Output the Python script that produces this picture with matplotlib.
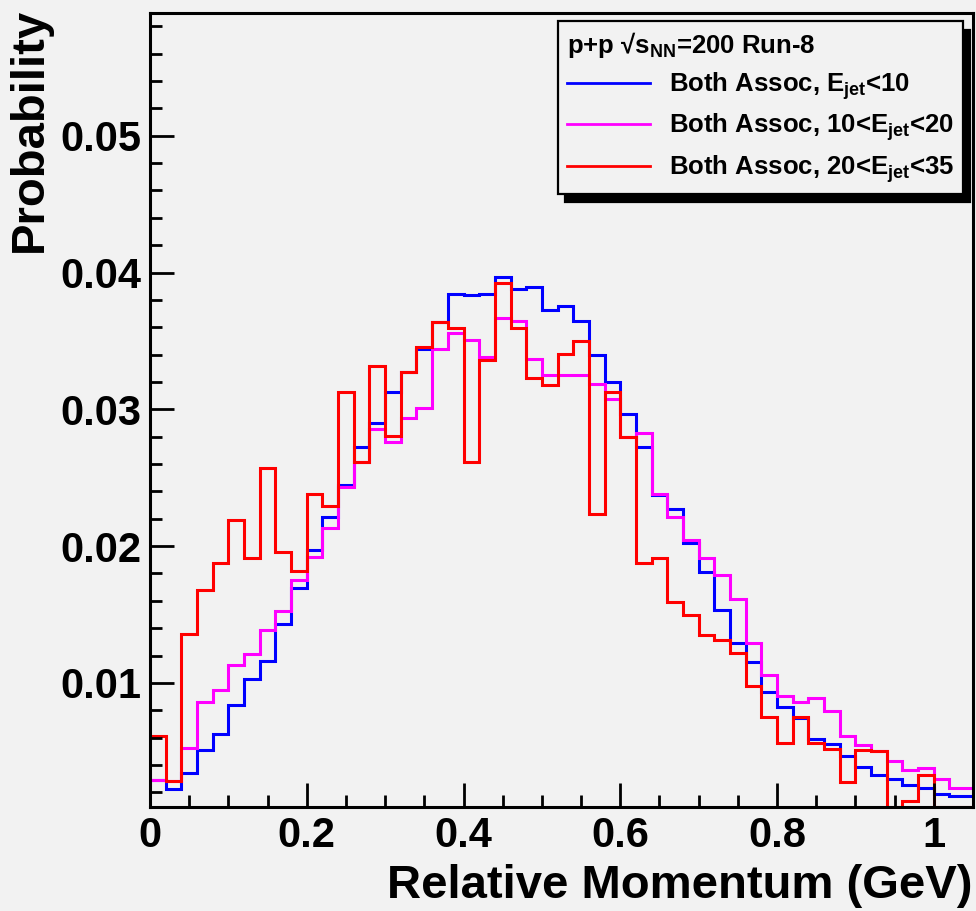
import numpy as np
import matplotlib
matplotlib.use("Agg")
import matplotlib.pyplot as plt
from matplotlib.ticker import MultipleLocator, FixedLocator

plt.rcParams["font.family"] = ["Liberation Sans", "DejaVu Sans"]
plt.rcParams["font.weight"] = "bold"
plt.rcParams["mathtext.fontset"] = "custom"
plt.rcParams["mathtext.rm"] = "Liberation Sans:bold"
plt.rcParams["mathtext.bf"] = "Liberation Sans:bold"
plt.rcParams["mathtext.it"] = "Liberation Sans:bold"

# 53 bins of 0.02 GeV, the last one is cut by the axis at 1.05
bin_edges = np.linspace(0.0, 1.06, 54)

# Both Assoc, E_jet < 10
blue_vals = [
    0.0029, 0.00227, 0.00341, 0.00506, 0.00628, 0.00839, 0.01028, 0.01162, 0.01429, 0.01691,
    0.01968, 0.02213, 0.02444, 0.02728, 0.02898, 0.03124, 0.0327, 0.03439, 0.0364, 0.03845,
    0.03838, 0.03845, 0.03966, 0.03881, 0.03893, 0.03723, 0.03752, 0.03645, 0.03395, 0.03203,
    0.02966, 0.02723, 0.02371, 0.02272, 0.02019, 0.0181, 0.01533, 0.01291, 0.01152, 0.00936,
    0.00822, 0.00744, 0.00586, 0.0055, 0.00462, 0.00385, 0.00324, 0.0030, 0.00251, 0.00232,
    0.00191, 0.00171, 0.00171,
]
# Both Assoc, 10 < E_jet < 20
magenta_vals = [
    0.0029, 0.0028, 0.00526, 0.00859, 0.00951, 0.01133, 0.01208, 0.01385, 0.01529, 0.0175,
    0.01922, 0.02133, 0.02432, 0.02618, 0.02857, 0.02764, 0.02934, 0.03007, 0.03439, 0.03561,
    0.03505, 0.03379, 0.03667, 0.03643, 0.03371, 0.0325, 0.0325, 0.0325, 0.03182, 0.03075,
    0.02795, 0.0283, 0.02383, 0.0221, 0.02043, 0.01915, 0.01786, 0.01611, 0.01291, 0.01058,
    0.00902, 0.00859, 0.0089, 0.00793, 0.00608, 0.00543, 0.00499, 0.00429, 0.00366, 0.0038,
    0.0030, 0.00234, 0.00234,
]
# Both Assoc, 20 < E_jet < 35
red_vals = [
    0.00608, 0.0028, 0.01354, 0.01679, 0.01875, 0.02194, 0.01915, 0.0257, 0.01958, 0.0182,
    0.02381, 0.02293, 0.03128, 0.02618, 0.03315, 0.02806, 0.03272, 0.03458, 0.03642, 0.03595,
    0.02618, 0.03364, 0.03922, 0.03594, 0.03226, 0.03177, 0.03408, 0.035, 0.02237, 0.0313,
    0.02796, 0.01873, 0.01915, 0.01591, 0.01495, 0.01351, 0.01312, 0.01216, 0.00975, 0.0075,
    0.0056, 0.0075, 0.00562, 0.00513, 0.00276, 0.00511, 0.005, 0.0009, 0.00135, 0.0033,
    0.0009, 0.0009, 0.0009,
]

labels = [
    r"Both Assoc, E$_{\mathrm{jet}}$<10",
    r"Both Assoc, 10<E$_{\mathrm{jet}}$<20",
    r"Both Assoc, 20<E$_{\mathrm{jet}}$<35",
]
colors = ["#0000ff", "#ff00ff", "#ff0000"]
header = r"p+p √s$_{\mathrm{NN}}$=200 Run-8"

bg = "#f2f2f2"
fig = plt.figure(figsize=(9.76, 9.11), dpi=100, facecolor=bg)
ax = fig.add_axes([0.1537, 0.1138, 0.8432, 0.8723], facecolor=bg)

for vals, col, lab in zip([blue_vals, magenta_vals, red_vals], colors, labels):
    ax.stairs(vals, bin_edges, baseline=None, color=col, linewidth=2.2, label=lab)

ax.set_xlim(0, 1.05)
ax.set_ylim(0.0009, 0.059)

ax.xaxis.set_major_locator(FixedLocator([0, 0.2, 0.4, 0.6, 0.8, 1.0]))
ax.xaxis.set_minor_locator(MultipleLocator(0.05))
ax.set_xticklabels(["0", "0.2", "0.4", "0.6", "0.8", "1"])
ax.yaxis.set_major_locator(FixedLocator([0.01, 0.02, 0.03, 0.04, 0.05]))
ax.yaxis.set_minor_locator(MultipleLocator(0.002))
ax.set_yticklabels(["0.01", "0.02", "0.03", "0.04", "0.05"])

ax.tick_params(which="both", direction="in", width=2.0, color="black",
               top=False, right=False)
ax.tick_params(which="major", length=17, labelsize=30, pad=6)
ax.tick_params(which="minor", length=8.5)
for s in ax.spines.values():
    s.set_linewidth(2.2)
    s.set_color("black")

ax.set_xlabel("Relative Momentum (GeV)", loc="right", fontsize=34,
              fontweight="bold", labelpad=6)
ax.set_ylabel("Probability", loc="top", fontsize=34, fontweight="bold",
              labelpad=6)
ax.yaxis.label.set_y(1.006)

leg = ax.legend(loc="upper right", bbox_to_anchor=(0.988, 0.989),
                borderaxespad=0, title=header, alignment="left",
                prop={"size": 18.5, "weight": "bold"},
                title_fontproperties={"size": 18.5, "weight": "bold"},
                fancybox=False, edgecolor="black", facecolor=bg, framealpha=1,
                handlelength=3.2, handletextpad=0.75, labelspacing=0.38,
                borderpad=0.35,
                shadow={"ox": 5, "oy": -6, "color": "black", "alpha": 1})
leg.get_frame().set_linewidth(1.6)
for ln in leg.get_lines():
    ln.set_linewidth(2.0)

fig.savefig("out.png", dpi=100, facecolor=bg)
